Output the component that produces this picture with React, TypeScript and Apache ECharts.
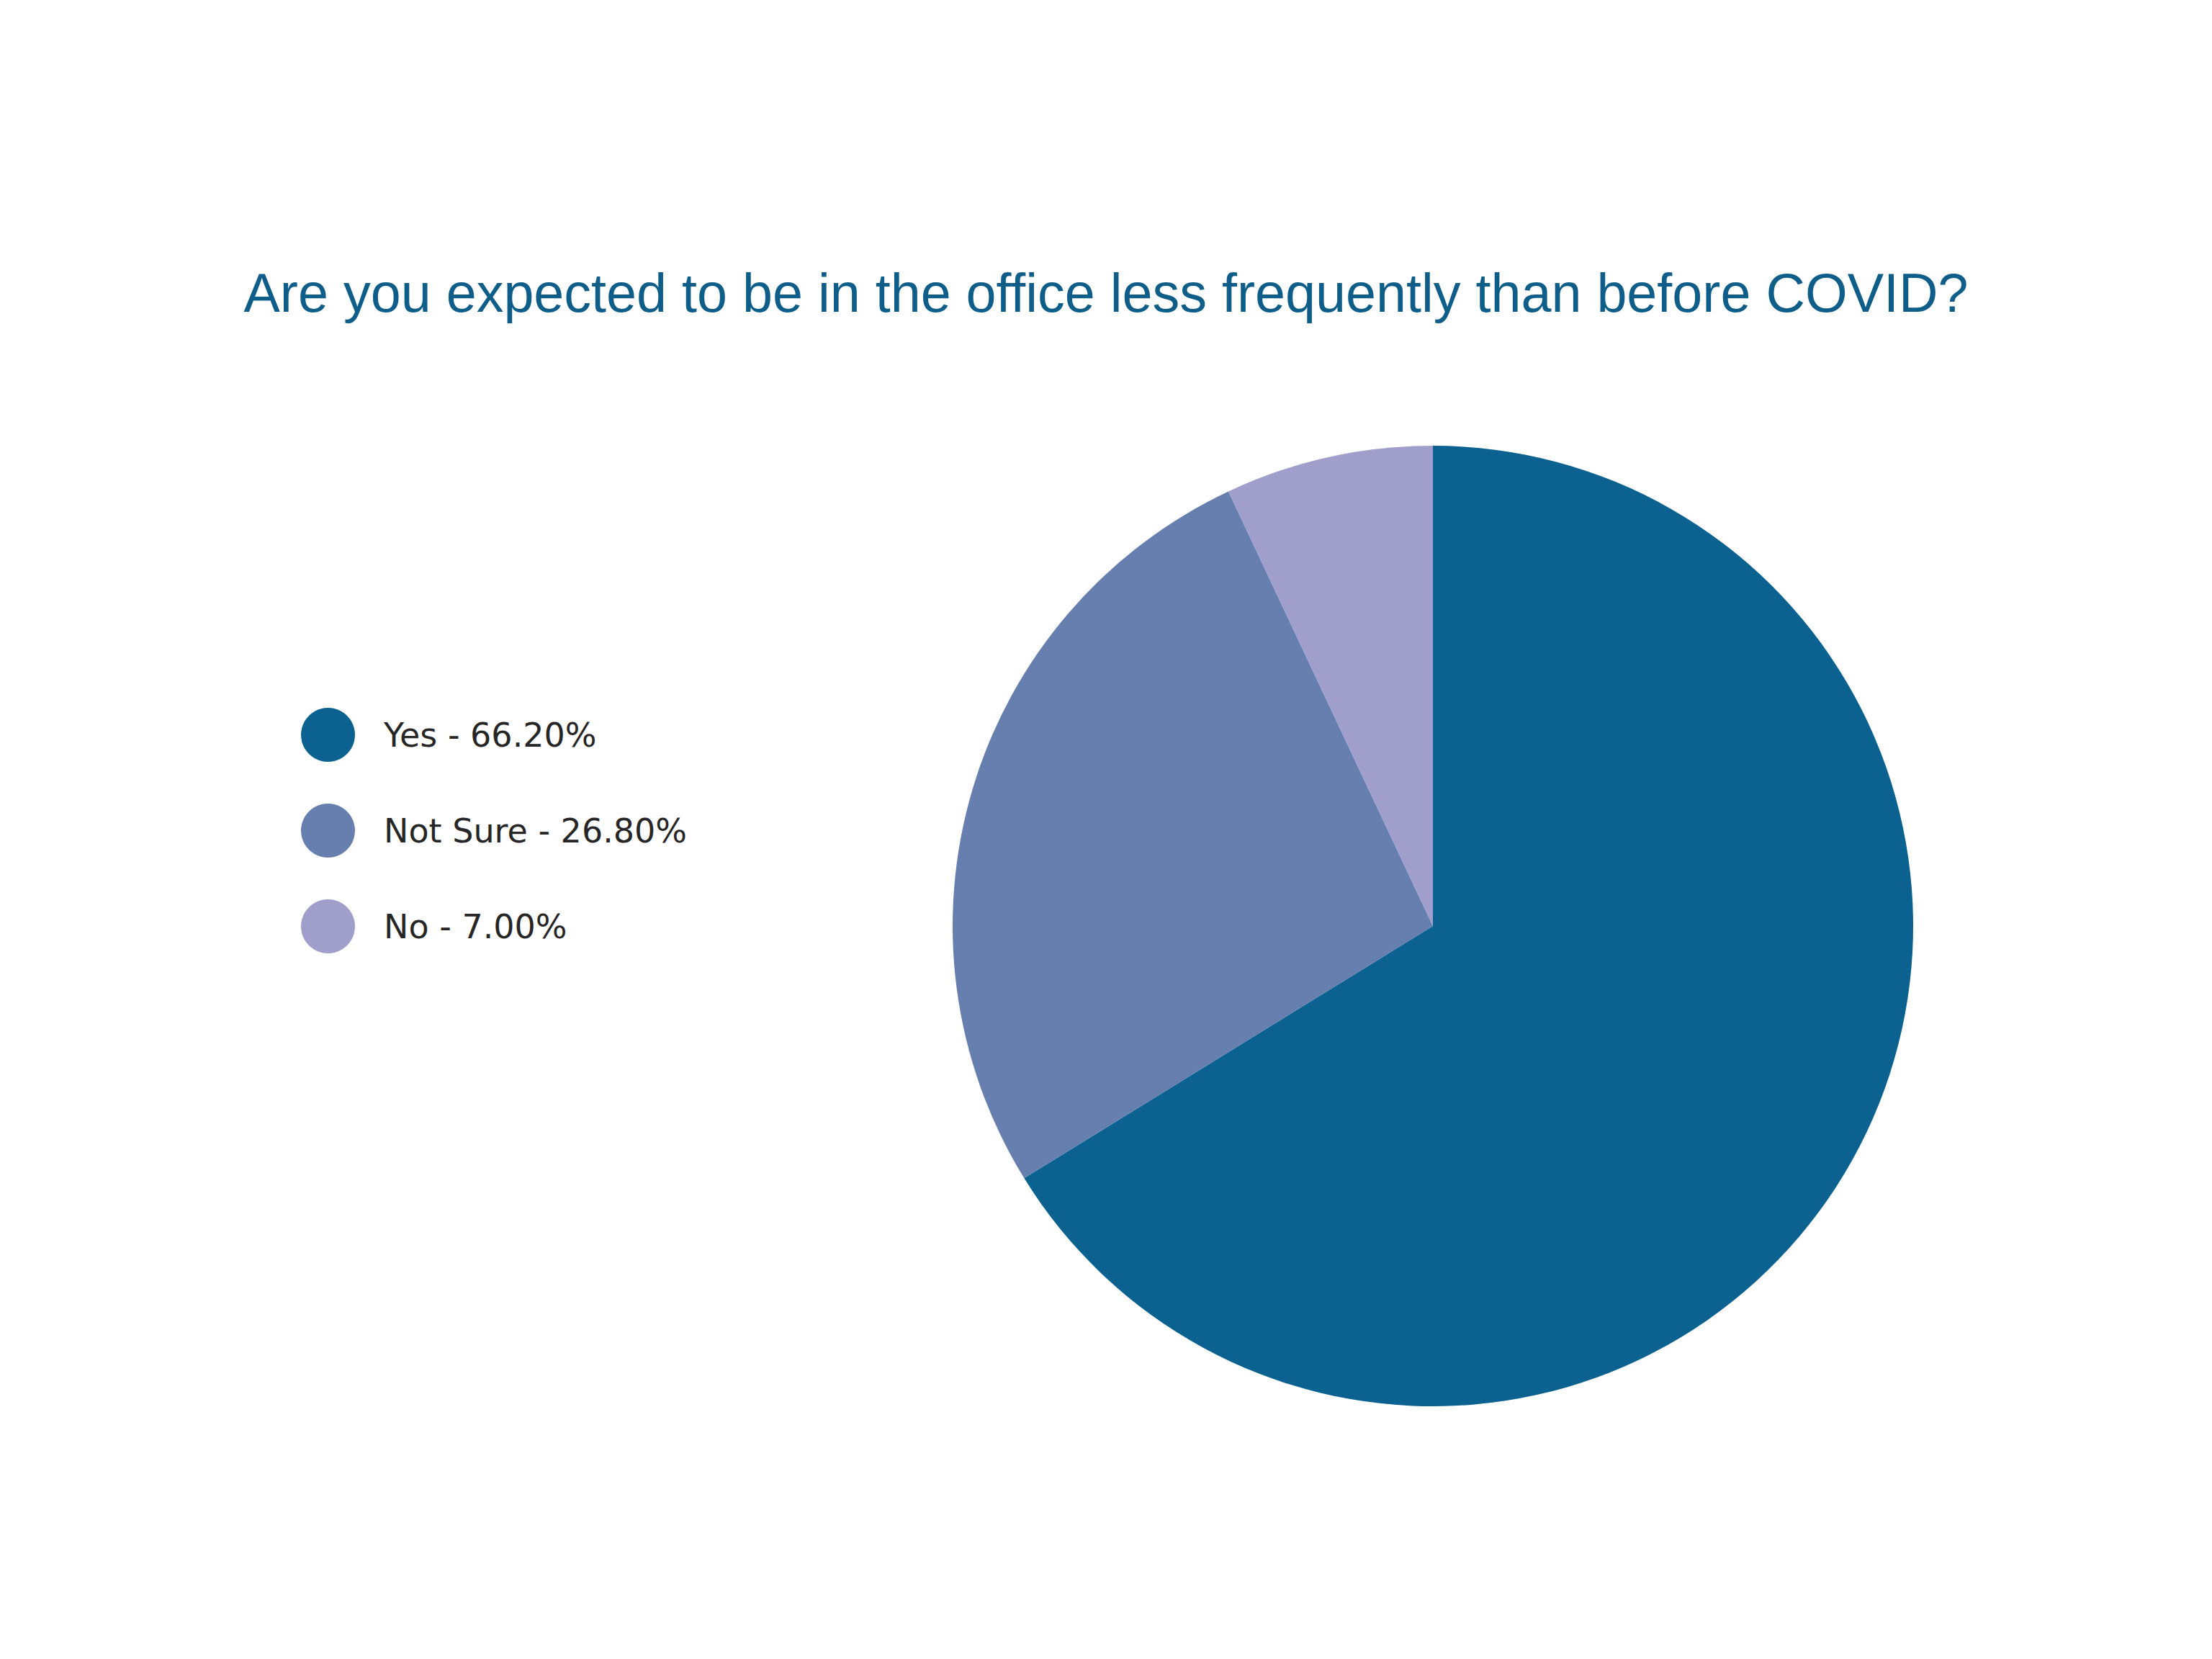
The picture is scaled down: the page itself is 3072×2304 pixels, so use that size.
import React, { useEffect, useRef } from "react";
import * as echarts from "echarts";

const titleText = "Are you expected to be in the office less frequently than before COVID?";
const categories = ["Yes", "Not Sure", "No"];
const values = [66.2, 26.8, 7.0];
const colors = ["#0B6190", "#667FAF", "#A09FCB"];

export default function App() {
  const ref = useRef<HTMLDivElement>(null);
  useEffect(() => {
    if (!ref.current) return;
    const chart = echarts.init(ref.current, null, { renderer: "svg" });
    const data = categories.map((name, i) => ({
      name,
      value: values[i],
      itemStyle: { color: colors[i] },
    }));
    chart.setOption({
      animation: false,
      backgroundColor: "#ffffff",
      title: {
        text: titleText,
        left: "center",
        top: 364,
        textStyle: {
          fontFamily: "Liberation Sans",
          fontSize: 75.5,
          fontWeight: "normal",
          color: "#0F5D89",
        },
      },
      legend: {
        orient: "vertical",
        left: 413,
        top: 978,
        icon: "circle",
        itemWidth: 75,
        itemHeight: 75,
        itemGap: 58,
        selectedMode: false,
        formatter: (name: string) => {
          const i = categories.indexOf(name);
          return `${name} - ${values[i].toFixed(2)}%`;
        },
        textStyle: {
          fontFamily: "DejaVu Sans",
          fontSize: 46,
          color: "#262626",
          padding: [0, 0, 0, 35],
        },
      },
      series: [
        {
          type: "pie",
          center: [1990, 1286],
          radius: 667,
          startAngle: 90,
          clockwise: true,
          label: { show: false },
          labelLine: { show: false },
          emphasis: { disabled: true },
          itemStyle: { borderWidth: 0 },
          data,
        },
      ],
    });
    return () => chart.dispose();
  }, []);
  return (
    <div
      ref={ref}
      style={{ position: "fixed", left: 0, top: 0, width: 3072, height: 2304 }}
    />
  );
}
